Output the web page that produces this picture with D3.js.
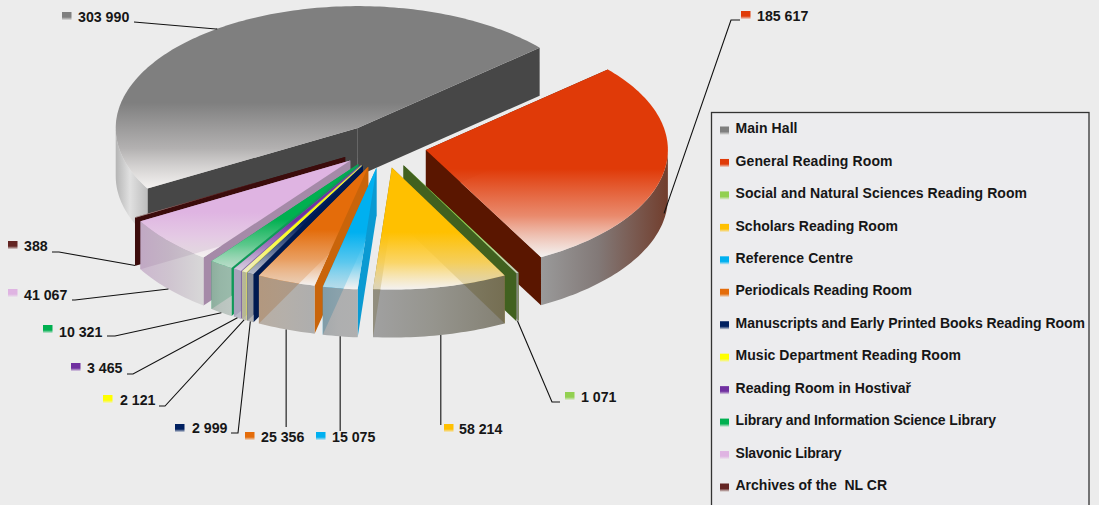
<!DOCTYPE html>
<html><head><meta charset="utf-8">
<script src="https://cdn.jsdelivr.net/npm/d3@7/dist/d3.min.js"></script>
<style>html,body{margin:0;padding:0;background:#ececec;overflow:hidden}svg{display:block}
text{font-family:"Liberation Sans",Arial,sans-serif;font-weight:700;fill:#161616}</style>
</head><body><svg id="c" width="1099" height="505"></svg>
<script>
const categories=["Main Hall","General Reading Room","Social and Natural Sciences Reading Room","Scholars Reading Room","Reference Centre","Periodicals Reading Room","Manuscripts and Early Printed Books Reading Room","Music Department Reading Room","Reading Room in Hostivař","Library and Information Science Library","Slavonic Library","Archives of the  NL CR"];
const values=[303990,185617,1071,58214,15075,25356,2999,2121,3465,10321,41067,388];
const valueLabels=["303 990","185 617","1 071","58 214","15 075","25 356","2 999","2 121","3 465","10 321","41 067","388"];
const topColors=["#7f7f7f","#e03a08","#92d050","#ffc000","#00b0f0","#e46c0a","#002060","#ffff00","#7030a0","#00b050","#dfb4e2","#632523"];
const cutColors=["#474747","#5a1600","#41611f","#8f7a20","#0a9ad2","#c9640a","#001a50","#d8d860","#7e62a8","#0f9a58","#a58aa8","#3c0c0c"];
const wallLeft=["#aaaaaa","#8a8a8a","#9a9a9a","#929292","#989da0","#aea296","#a8a8a8","#b0b0a8","#b0b0c0","#a6b2ab","#c6aec9","#3c0c0c"];
const wallMid=["#dedede","#6e6361","#909090","#85847c","#a2a3a4","#aaa49d","#a8a8a8","#b0b0a0","#b0b0c0","#b0bcb6","#c9bcca","#3c0c0c"];
const wallRight=["#b4b4b4","#5a1c08","#808060","#706c5c","#a4a4a4","#a2a2a2","#a8a8a8","#b0b0a0","#b0b0c0","#b5c1bb","#d4d4d4","#3c0c0c"];
const legendTextWidths=[62,157,291.5,162.5,117.5,176.5,349.5,225.5,175.5,260.5,106,151.5];
// label layout: [marker x, marker y, text x, baseline, elbow x, elbow y, line start x, line start y]
const labelLayout=[
[62,12,78,22,216,29,134,22],[741,11,757,21,731,20,740,20],[565,392,581,402,552,402,560,402],
[444,424,459,434,443,425,443,425],[316,432,332,442,339,431,339,431],[245,432,261,442,287,427,287,427],
[175,424,192,433,238,433,231,433],[103,395,120,405,165,406,159,406],[71,363,87,373,133,374,127,374],
[43,325,59,337,115,336,107,336],[8,289,24,300,75,300,72,300],[8,241,24,251,59,252,52,252]];
// drawing order, back to front
const drawOrder=[0,1,2,3,11,10,9,8,7,6,5,4];

const svg=d3.select("#c");
const defs=svg.append("defs");
const W=242,H=122,cx=383,cy=146,depth=48,explode=0.18;
const x=d3.scaleLinear().domain([-1,1]).range([cx-W,cx+W]);
const y=d3.scaleLinear().domain([-1,1]).range([cy-H,cy+H]);
const start=-119.7*Math.PI/180;
const arcs=d3.pie().sort(null).value(d=>d).startAngle(start).endAngle(start+2*Math.PI)(values);
const slices=arcs.map((a,i)=>{
  const t0=a.startAngle-Math.PI/2,t1=a.endAngle-Math.PI/2,m=(t0+t1)/2;
  return {i,t0,t1,m,ox:explode*Math.cos(m),oy:explode*Math.sin(m)};
});
const px=(s,t)=>x(s.ox+Math.cos(t)),py=(s,t)=>y(s.oy+Math.sin(t));
const line=d3.line();
const samples=(s,a,b)=>{const n=Math.max(2,Math.ceil(Math.abs(b-a)/0.02));return d3.range(n+1).map(k=>{const t=a+(b-a)*k/n;return [px(s,t),py(s,t)]})};
function visibleRange(s){
  const two=2*Math.PI;
  for(const off of [-two,0,two]){
    const lo=Math.max(s.t0+off,0),hi=Math.min(s.t1+off,Math.PI);
    if(hi>lo)return [lo,hi];
  }
  return null;
}
topColors.forEach((c,i)=>{
  const g=defs.append("linearGradient").attr("id","top"+i).attr("x1",0).attr("y1",0).attr("x2",0).attr("y2",1);
  g.append("stop").attr("offset",0).attr("stop-color",c);
  g.append("stop").attr("offset",.53).attr("stop-color",c);
  g.append("stop").attr("offset",.78).attr("stop-color",d3.interpolateRgb(c,"#f6f3f1")(.4)).attr("stop-opacity",.94);
  g.append("stop").attr("offset",1).attr("stop-color","#f6f3f1").attr("stop-opacity",.74);
  const w=defs.append("linearGradient").attr("id","wall"+i);
  w.append("stop").attr("offset",0).attr("stop-color",wallLeft[i]);
  w.append("stop").attr("offset",.45).attr("stop-color",wallMid[i]);
  w.append("stop").attr("offset",1).attr("stop-color",wallRight[i]);
  const k=defs.append("linearGradient").attr("id","key"+i).attr("x1",0).attr("y1",0).attr("x2",0).attr("y2",1);
  k.append("stop").attr("offset",0).attr("stop-color",c);
  k.append("stop").attr("offset",.6).attr("stop-color",c);
  k.append("stop").attr("offset",1).attr("stop-color","#eeeeee");
});
const plot=svg.append("g");
drawOrder.forEach(i=>{
  const s=slices[i],g=plot.append("g");
  const ax=x(s.ox),ay=y(s.oy);
  [s.t0,s.t1].forEach((t)=>{
    const ex=px(s,t),ey=py(s,t);
    g.append("path").attr("d",line([[ax,ay],[ex,ey],[ex,ey+depth],[ax,ay+depth]])+"Z").attr("fill",cutColors[i]);
  });
  const r=visibleRange(s);
  if(r){
    const upper=samples(s,r[0],r[1]);
    const lower=upper.map(p=>[p[0],p[1]+depth]).reverse();
    g.append("path").attr("d",line(upper.concat(lower))+"Z").attr("fill",`url(#wall${i})`).attr("fill-opacity",i===11?1:.84);
  }
  g.append("path").attr("d",line([[ax,ay]].concat(samples(s,s.t0,s.t1)))+"Z").attr("fill",`url(#top${i})`);
});
// leaders and value labels
const labels=svg.append("g");
slices.forEach((s,i)=>{
  const L=labelLayout[i];
  const ex=px(s,s.m),ey=py(s,s.m)+(i===0?0:depth-(i===1?6:0));
  const vertical=i>=3&&i<=5;
  const pts=vertical?[[ex,L[5]],[ex,ey]]:[[L[6],L[7]],[L[4],L[5]],[ex,ey]];
  labels.append("path").attr("d",line(pts)).attr("fill","none").attr("stroke","#111").attr("stroke-width",1.1);
  labels.append("rect").attr("x",L[0]).attr("y",L[1]).attr("width",9.5).attr("height",8.5).attr("fill",`url(#key${i})`);
  labels.append("text").attr("x",L[2]).attr("y",L[3]).attr("font-size",14.2).text(valueLabels[i]);
});
// legend
const legY=d3.scaleLinear().domain([0,11]).range([128,485]);
const leg=svg.append("g");
leg.append("rect").attr("x",711.5).attr("y",112.5).attr("width",377.5).attr("height",420).attr("fill","#ececee").attr("stroke","#333").attr("stroke-width",1.3);
categories.forEach((c,i)=>{
  leg.append("rect").attr("x",720).attr("y",legY(i)-1.5).attr("width",9).attr("height",8.5).attr("fill",`url(#key${i})`);
  leg.append("text").attr("x",735.5).attr("y",legY(i)+5.2).attr("font-size",14).attr("textLength",legendTextWidths[i]).attr("lengthAdjust","spacing").style("white-space","pre").text(c);
});
</script></body></html>
